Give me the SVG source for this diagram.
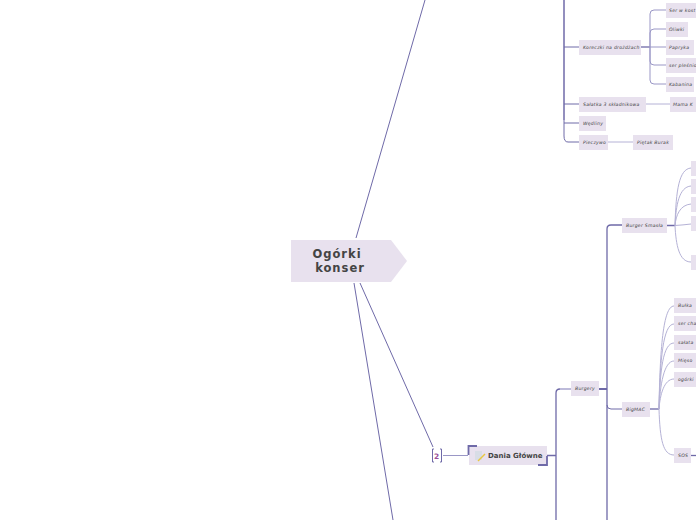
<svg xmlns="http://www.w3.org/2000/svg" width="696" height="520" viewBox="0 0 696 520">
<style>
.n{fill:#e8e1ee}
.t{font-family:"DejaVu Sans",sans-serif;font-size:4.600px;font-style:italic;fill:#444;letter-spacing:.25px}
.c{fill:none;stroke:#6f6aa8}
.l{fill:none;stroke:#b5b2d6}
.m{fill:none;stroke:#9a97c6}
.r{font-family:"DejaVu Sans",sans-serif;font-size:11.500px;font-weight:700;fill:#444;letter-spacing:1px}
</style>
<rect width="696" height="520" fill="#fff"/>
<g id="connectors">
<path class="c" d="M356 238L425 0M360 283L433 447M354 283L393 520"/>
<path class="m" stroke-width="1" d="M443 455.500H468"/>
<path class="c" stroke-width="1.300" d="M547 455.500H556M556 520V393Q556 389 560 389"/>
<path class="m" stroke-width="1.300" d="M560 389H571"/>
<path class="c" stroke-width="2" d="M599 389H607"/>
<path class="c" stroke-width="1.300" d="M607 520V229Q607 225 611 225H622"/>
<path class="c" d="M607 405Q607 409 611 409H622"/>
<path class="c" stroke-width="1.500" d="M564 0V120"/>
<path class="c" d="M564 120V136Q564 142 568 142H579M564 47H579M564 104H579M564 123H579"/>
<path class="c" stroke-width="1.300" d="M641 47H650"/>
<path class="m" d="M650 47H666M650 47V14Q650 10 654 10H666M650 47V33Q650 29 654 29H666M650 47V61Q650 65 654 65H666M650 47V80Q650 84 654 84H666"/>
<path class="l" d="M646 104H670M608 142H633"/>
<path class="c" stroke-width="1.500" d="M667 225.500H675"/>
<path class="l" d="M675 225.500C676 190 679 169 691 168M675 225.500C676 205 679 187 691 186M675 225.500C676 215 680 205 691 204M675 225.500Q683 225 691 224M675 225.500C676 245 679 262 691 262"/>
<path class="c" stroke-width="1.300" d="M650 409H659"/>
<path class="l" d="M659 409C660 350 663 306 674 306M659 409C660 360 663 324 674 324M659 409C660 370 663 343 674 343M659 409C660 385 664 361 674 361M659 409C660 395 664 379 674 379M659 409C660 440 663 455 674 455"/>
<path class="c" stroke-width="1.300" d="M691 455.500H696"/>
</g>
<g id="root"><polygon class="n" points="291,240 391,240 407,261 391,282 291,282"/>
<text class="r" x="337" y="258" text-anchor="middle">Ogórki</text>
<text class="r" x="340" y="272" text-anchor="middle">konser</text></g>
<g id="badge"><path class="c" d="M434 449H432.500V462H434M440 449H441.500V462H440"/>
<text x="436.700" y="458.500" text-anchor="middle" style="font-family:'DejaVu Sans',sans-serif;font-size:7.500px;font-weight:700;fill:#9b4f9b">2</text></g>
<g id="dania"><rect class="n" x="469" y="446" width="78" height="19"/>
<path class="c" stroke-width="1.800" d="M468.500 455V446H477M538 465H547V456"/>
<rect x="475" y="451" width="7" height="9" fill="#d8dde6"/><path d="M478 461L485 454" stroke="#e8c840" stroke-width="1.500"/>
<text x="488" y="458" style="font-family:'DejaVu Sans',sans-serif;font-size:7px;font-weight:700;fill:#444">Dania Główne</text></g>
<g id="burgery"><rect class="n" x="571" y="381" width="28" height="15"/><text class="t" x="575" y="390">Burgery</text></g>
<g id="smash"><rect class="n" x="622" y="218" width="45" height="15"/><text class="t" x="626" y="227">Burger Smasła</text></g>
<g id="bigmac"><rect class="n" x="622" y="402" width="28" height="15"/><text class="t" x="626" y="411">BigMAC</text></g>
<g id="s1"><rect class="n" x="691" y="161" width="5" height="15"/></g>
<g id="s2"><rect class="n" x="691" y="179" width="5" height="15"/></g>
<g id="s3"><rect class="n" x="691" y="197" width="5" height="15"/></g>
<g id="s4"><rect class="n" x="691" y="216" width="5" height="15"/></g>
<g id="s5"><rect class="n" x="691" y="255" width="5" height="15"/></g>
<g id="b1"><rect class="n" x="674" y="298" width="22" height="15"/><text class="t" x="678" y="307">Bułka</text></g>
<g id="b2"><rect class="n" x="674" y="316" width="22" height="15"/><text class="t" x="678" y="325">ser cha</text></g>
<g id="b3"><rect class="n" x="674" y="335" width="22" height="15"/><text class="t" x="678" y="344">sałata</text></g>
<g id="b4"><rect class="n" x="674" y="353" width="22" height="15"/><text class="t" x="678" y="362">Mięso</text></g>
<g id="b5"><rect class="n" x="674" y="372" width="22" height="15"/><text class="t" x="678" y="381">ogórki</text></g>
<g id="sos"><rect class="n" x="674" y="448" width="17" height="15"/><text class="t" x="678" y="457">SOS</text></g>
<g id="koreczki"><rect class="n" x="579" y="40" width="62" height="15"/><text class="t" x="583" y="49">Koreczki na  drożdżach</text></g>
<g id="k1"><rect class="n" x="666" y="3" width="30" height="15"/><text class="t" x="669" y="12">Ser w kost</text></g>
<g id="k2"><rect class="n" x="666" y="22" width="22" height="15"/><text class="t" x="669" y="31">Oliwki</text></g>
<g id="k3"><rect class="n" x="666" y="40" width="28" height="15"/><text class="t" x="669" y="49">Papryka</text></g>
<g id="k4"><rect class="n" x="666" y="58" width="30" height="15"/><text class="t" x="669" y="67">ser pleśnio</text></g>
<g id="k5"><rect class="n" x="666" y="77" width="28" height="15"/><text class="t" x="669" y="86">Kabanina</text></g>
<g id="salatka"><rect class="n" x="579" y="97" width="67" height="15"/><text class="t" x="583" y="106">Sałatka 3 składnikowa</text></g>
<g id="mama"><rect class="n" x="670" y="97" width="26" height="15"/><text class="t" x="673" y="106">Mama K</text></g>
<g id="wedliny"><rect class="n" x="579" y="116" width="27" height="15"/><text class="t" x="583" y="125">Wędliny</text></g>
<g id="pieczywo"><rect class="n" x="579" y="135" width="29" height="15"/><text class="t" x="583" y="144">Pieczywo</text></g>
<g id="piotr"><rect class="n" x="633" y="135" width="40" height="15"/><text class="t" x="637" y="144">Piętak Burak</text></g>
</svg>
